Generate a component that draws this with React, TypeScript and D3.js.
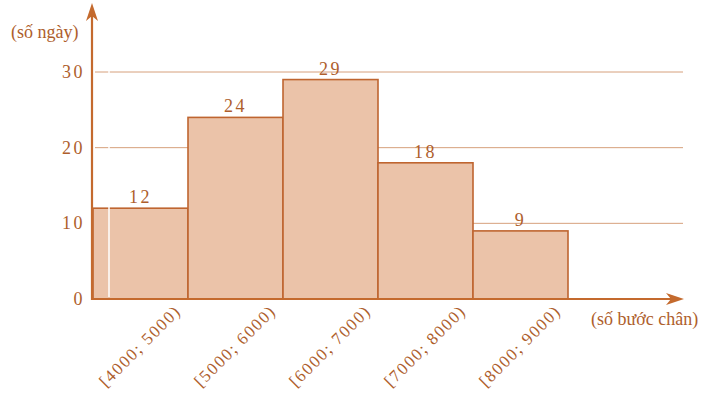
import React from "react";
import * as d3 from "d3";

const categories = ["[4000; 5000)", "[5000; 6000)", "[6000; 7000)", "[7000; 8000)", "[8000; 9000)"];
const values = [12, 24, 29, 18, 9];
const yTicks = [0, 10, 20, 30];
const yTitle = "(số ngày)";
const xTitle = "(số bước chân)";

const W = 702;
const H = 394;
const axisX = 92;
const axisY = 299;
const font = "'Liberation Serif', 'DejaVu Serif', serif";
const axisColor = "#C46A2E";
const textColor = "#AE5E2C";

export default function App() {
  const x = d3.scaleBand<string>().domain(categories).range([93, 568]).padding(0);
  const y = d3.scaleLinear().domain([0, 30]).range([axisY, 72]);

  return (
    <svg width={W} height={H} style={{ position: "absolute", left: 0, top: 0, background: "#fff" }}>
      {yTicks.filter((t) => t > 0).map((t) => (
        <line key={"g" + t} x1={95} x2={683} y1={y(t)} y2={y(t)} stroke="#D6A07C" strokeWidth={1} />
      ))}
      {values.map((v, i) => (
        <rect
          key={"b" + i}
          x={x(categories[i])!}
          y={y(v)}
          width={x.bandwidth()}
          height={axisY - y(v)}
          fill="#EBC3A9"
          stroke="#BF6530"
          strokeWidth={1.6}
        />
      ))}
      <line x1={109} x2={109} y1={y(30) - 2} y2={axisY - 2} stroke="#fff" strokeWidth={1.5} />
      {values.map((v, i) => (
        <text
          key={"v" + i}
          x={x(categories[i])! + x.bandwidth() / 2}
          y={y(v) - 5}
          textAnchor="middle"
          fontFamily={font}
          fontSize={18}
          letterSpacing={2.5}
          fill={textColor}
        >
          {v}
        </text>
      ))}
      {yTicks.map((t) => (
        <text
          key={"y" + t}
          x={85}
          y={y(t) + 6}
          textAnchor="end"
          fontFamily={font}
          fontSize={18}
          letterSpacing={2.5}
          fill={textColor}
        >
          {t}
        </text>
      ))}
      {categories.map((c) => {
        const ex = x(c)! + x.bandwidth() - 6;
        const ey = 312;
        return (
          <text
            key={"x" + c}
            x={ex}
            y={ey}
            textAnchor="end"
            transform={`rotate(-45 ${ex} ${ey})`}
            fontFamily={font}
            fontSize={17}
            letterSpacing={1.6}
            fill={textColor}
          >
            {c}
          </text>
        );
      })}
      <line x1={axisX} x2={axisX} y1={axisY + 1} y2={10} stroke={axisColor} strokeWidth={2.2} />
      <line x1={axisX - 1} x2={678} y1={axisY} y2={axisY} stroke={axisColor} strokeWidth={2.2} />
      <path d={`M${axisX},3 L${axisX - 6},21 L${axisX},16 L${axisX + 6},21 Z`} fill={axisColor} />
      <path d={`M684,${axisY} L666,${axisY - 6} L671,${axisY} L666,${axisY + 6} Z`} fill={axisColor} />
      <text x={11} y={38} fontFamily={font} fontSize={18} fill={textColor}>
        {yTitle}
      </text>
      <text x={591} y={325} fontFamily={font} fontSize={18} fill={textColor}>
        {xTitle}
      </text>
    </svg>
  );
}
